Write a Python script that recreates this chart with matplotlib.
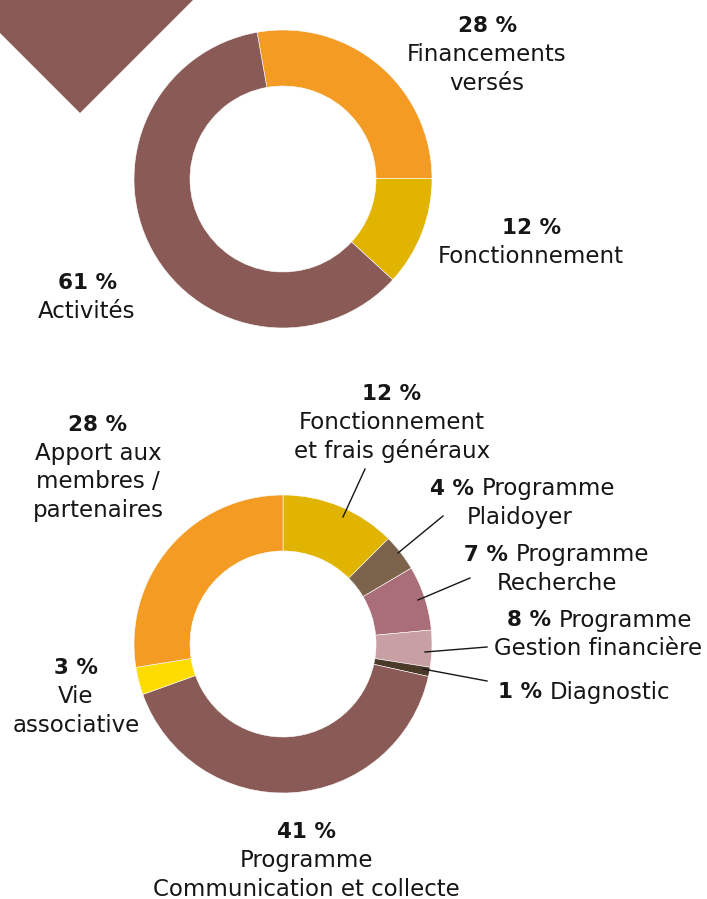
import matplotlib.pyplot as plt
from matplotlib.patches import Polygon

# =====================================================
# Data
# =====================================================

# top donut (clockwise from the top-left boundary)
top_labels = ["Financements\nversés", "Fonctionnement", "Activités"]
top_pct = ["28 %", "12 %", "61 %"]
top_values = [28, 12, 61]
top_colors = ["#F39B23", "#E0B400", "#8A5A57"]

# bottom donut (clockwise from 12 o'clock)
bot_labels = [
    "Fonctionnement\net frais généraux",
    "Programme\nPlaidoyer",
    "Programme\nRecherche",
    "Programme\nGestion financière",
    "Diagnostic",
    "Programme\nCommunication et collecte",
    "Vie\nassociative",
    "Apport aux\nmembres /\npartenaires",
]
bot_pct = ["12 %", "4 %", "7 %", "8 %", "1 %", "41 %", "3 %", "28 %"]
# slice sizes as drawn in the source graphic
bot_values = [12.5, 4, 7, 4, 1, 41, 3, 27.5]
bot_colors = ["#E0B400", "#7C634B", "#AA6E79", "#C8A0A3",
              "#4B3A2A", "#8A5A57", "#FFDC00", "#F39B23"]

W, H = 707, 899
FS = 16.5
FS_B = 15.5
LINE_H = 28.5
TXT = "#161616"


def py(y):
    # pixel row (top = 0) -> data y
    return H - y


fig = plt.figure(figsize=(W / 100, H / 100), dpi=100)
ax = fig.add_axes([0, 0, 1, 1])

# decorative corner shape
ax.add_patch(Polygon(
    [(0, py(0)), (0, py(33)), (80, py(113)), (193, py(0))],
    closed=True, color="#8A5A57", lw=0
))

# =====================================================
# Donuts
# =====================================================

wedge = dict(width=56, edgecolor="white", linewidth=0.4)

ax.pie(
    top_values, colors=top_colors, startangle=100,
    counterclock=False, center=(283, py(179)), radius=149,
    wedgeprops=wedge, frame=True
)

ax.pie(
    bot_values, colors=bot_colors, startangle=90,
    counterclock=False, center=(283, py(644)), radius=149,
    wedgeprops=wedge, frame=True
)


# =====================================================
# Labels
# =====================================================

def stacked(x, y, pct, label):
    ax.text(x, py(y), pct, ha="center", va="center",
            fontsize=FS_B, fontweight="bold", color=TXT)
    for i, line in enumerate(label.split("\n")):
        ax.text(x, py(y + (i + 1) * LINE_H), line, ha="center",
                va="center", fontsize=FS, color=TXT)


def inline(split, y, pct, label, x2=None):
    lines = label.split("\n")
    ax.text(split - 4, py(y), pct, ha="right", va="center",
            fontsize=FS_B, fontweight="bold", color=TXT)
    ax.text(split + 4, py(y), lines[0], ha="left", va="center",
            fontsize=FS, color=TXT)
    if len(lines) > 1:
        ax.text(x2, py(y + LINE_H), lines[1], ha="center",
                va="center", fontsize=FS, color=TXT)


# top
stacked(487, 26, top_pct[0], top_labels[0])
stacked(531, 228, top_pct[1], top_labels[1])
stacked(87, 283, top_pct[2], top_labels[2])

# bottom
stacked(392, 394, bot_pct[0], bot_labels[0])
inline(478, 489, bot_pct[1], bot_labels[1], 520)
inline(512, 555, bot_pct[2], bot_labels[2], 557)
inline(555, 620, bot_pct[3], bot_labels[3], 598)
inline(546, 692, bot_pct[4], bot_labels[4])
stacked(306, 832, bot_pct[5], bot_labels[5])
stacked(76, 668, bot_pct[6], bot_labels[6])
stacked(98, 425, bot_pct[7], bot_labels[7])

# leader lines
leaders = [
    ((343, 517), (365, 469)),
    ((398, 553), (443, 516)),
    ((418, 600), (470, 578)),
    ((425, 652), (487, 647)),
    ((423, 669), (487, 681)),
]
for (x0, y0), (x1, y1) in leaders:
    ax.plot([x0, x1], [py(y0), py(y1)], color=TXT, lw=1)

ax.set_xlim(0, W)
ax.set_ylim(0, H)
ax.set_aspect("equal")
ax.axis("off")

plt.savefig("out.png", dpi=100)
